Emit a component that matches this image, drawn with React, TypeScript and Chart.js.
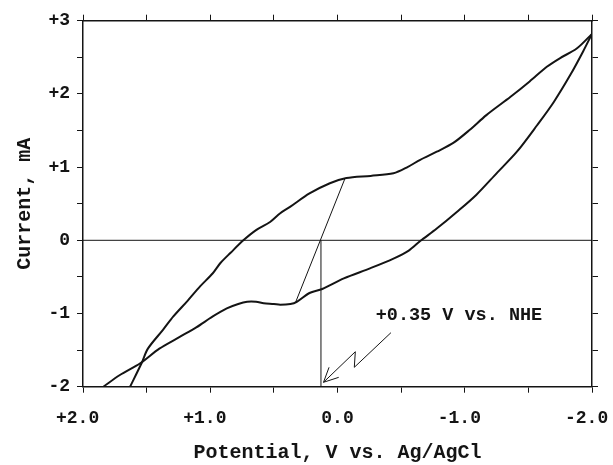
import React, { useEffect, useRef } from "react";
import { Chart, registerables } from "chart.js";

Chart.register(...registerables);

// Forward (lower) branch of the voltammogram: potential (V vs. Ag/AgCl) and current (mA)
const lowerPotential = [1.84, 1.71, 1.55, 1.4, 1.24, 1.11, 0.98, 0.87, 0.78, 0.71, 0.64, 0.58, 0.5, 0.45, 0.37, 0.32, 0.22, 0.12, -0.05, -0.26, -0.44, -0.56, -0.65, -0.78, -0.94, -1.09, -1.25, -1.41, -1.57, -1.7, -1.83, -1.93, -2.0];
const lowerCurrent = [-2.0, -1.84, -1.68, -1.48, -1.32, -1.19, -1.04, -0.93, -0.87, -0.84, -0.84, -0.86, -0.87, -0.88, -0.87, -0.84, -0.72, -0.665, -0.52, -0.38, -0.25, -0.14, -0.01, 0.16, 0.39, 0.62, 0.915, 1.21, 1.575, 1.89, 2.26, 2.58, 2.82];

// Reverse (upper) branch
const upperPotential = [-2.0, -1.88, -1.75, -1.645, -1.51, -1.36, -1.17, -1.04, -0.91, -0.78, -0.65, -0.55, -0.44, -0.26, -0.07, 0.06, 0.22, 0.37, 0.45, 0.53, 0.64, 0.74, 0.84, 0.92, 0.98, 1.08, 1.18, 1.29, 1.37, 1.49, 1.54, 1.63];
const upperCurrent = [2.82, 2.62, 2.49, 2.37, 2.17, 1.96, 1.71, 1.51, 1.33, 1.21, 1.1, 1.0, 0.915, 0.88, 0.85, 0.78, 0.64, 0.46, 0.37, 0.25, 0.14, 0.0, -0.17, -0.31, -0.45, -0.63, -0.83, -1.04, -1.22, -1.48, -1.68, -2.0];

// Construction lines
const zeroLinePotential = [2.0, -2.0];
const zeroLineCurrent = [0, 0];
const slopePotential = [0.33, -0.06];
const slopeCurrent = [-0.85, 0.85];
const nhePotential = [0.13, 0.13];
const nheCurrent = [-2.0, 0.0];

// Annotation
const annotationText = "+0.35 V vs. NHE";
const annotationPos = [-0.3, -1.03];
const arrowPotential = [-0.42, -0.132, -0.14, 0.11];
const arrowCurrent = [-1.262, -1.735, -1.522, -1.94];

// Axes
const xTickValues = [2, 1, 0, -1, -2];
const xTickLabels = ["+2.0", "+1.0", "0.0", "-1.0", "-2.0"];
const yTickValues = [3, 2, 1, 0, -1, -2];
const yTickLabels = ["+3", "+2", "+1", "0", "-1", "-2"];
const xTitle = "Potential, V vs. Ag/AgCl";
const yTitle = "Current, mA";

const toPts = (xs: number[], ys: number[]) => xs.map((x, i) => ({ x, y: ys[i] }));

const INK = "#141414";
const FONT = "'Liberation Mono', 'DejaVu Sans Mono', monospace";

const labelFor = (vals: number[], labels: string[], padSigned: boolean) => (v: number | string) => {
  const n = Number(v);
  const i = vals.findIndex((t) => Math.abs(t - n) < 1e-6);
  if (i < 0) return "";
  const s = labels[i];
  // centre the number itself on the tick, letting the sign hang to the left
  return padSigned && /^[+-]/.test(s) ? s + " " : s;
};

const annotationPlugin = {
  id: "nheAnnotation",
  afterDatasetsDraw(chart: any) {
    const { ctx, scales } = chart;
    const xs = scales.x;
    const ys = scales.y;
    const px = arrowPotential.map((v) => xs.getPixelForValue(v));
    const py = arrowCurrent.map((v) => ys.getPixelForValue(v));
    ctx.save();
    ctx.strokeStyle = INK;
    ctx.lineWidth = 1;
    ctx.beginPath();
    ctx.moveTo(px[0], py[0]);
    for (let i = 1; i < px.length; i++) ctx.lineTo(px[i], py[i]);
    ctx.stroke();
    // open arrowhead
    const n = px.length - 1;
    const ang = Math.atan2(py[n] - py[n - 1], px[n] - px[n - 1]);
    const len = 16;
    const spread = 0.45;
    ctx.beginPath();
    ctx.moveTo(px[n] - len * Math.cos(ang - spread), py[n] - len * Math.sin(ang - spread));
    ctx.lineTo(px[n], py[n]);
    ctx.lineTo(px[n] - len * Math.cos(ang + spread), py[n] - len * Math.sin(ang + spread));
    ctx.stroke();
    // text
    ctx.fillStyle = INK;
    ctx.font = `bold 18.5px ${FONT}`;
    ctx.textAlign = "left";
    ctx.textBaseline = "middle";
    ctx.fillText(annotationText, xs.getPixelForValue(annotationPos[0]), ys.getPixelForValue(annotationPos[1]));
    ctx.restore();
  },
};

export default function App() {
  const ref = useRef<HTMLCanvasElement | null>(null);

  useEffect(() => {
    document.body.style.margin = "0";
    if (!ref.current) return;
    const grid = {
      drawOnChartArea: false,
      drawTicks: true,
      tickLength: 6,
      color: INK,
      lineWidth: 1,
    };
    const border = { display: true, color: INK, width: 1.5 };
    const noPad = (s: any) => {
      s.paddingLeft = 0;
      s.paddingRight = 0;
      s.paddingTop = 0;
      s.paddingBottom = 0;
    };
    const chart = new Chart(ref.current, {
      type: "scatter",
      data: {
        datasets: [
          { data: toPts(lowerPotential, lowerCurrent), borderWidth: 2, tension: 0.3 },
          { data: toPts(upperPotential, upperCurrent), borderWidth: 2, tension: 0.3 },
          { data: toPts(zeroLinePotential, zeroLineCurrent), borderWidth: 1, tension: 0 },
          { data: toPts(slopePotential, slopeCurrent), borderWidth: 1, tension: 0 },
          { data: toPts(nhePotential, nheCurrent), borderWidth: 1, tension: 0 },
        ].map((d) => ({
          ...d,
          showLine: true,
          borderColor: INK,
          backgroundColor: INK,
          pointRadius: 0,
          fill: false,
        })),
      },
      options: {
        animation: false,
        responsive: true,
        maintainAspectRatio: false,
        layout: { padding: 0 },
        plugins: { legend: { display: false }, tooltip: { enabled: false } },
        scales: {
          x: {
            type: "linear",
            position: "bottom",
            min: -2,
            max: 2,
            reverse: true,
            grid,
            border,
            ticks: {
              stepSize: 0.5,
              autoSkip: false,
              maxRotation: 0,
              padding: 15,
              color: INK,
              font: { family: FONT, size: 18, weight: "bold" },
              callback: labelFor(xTickValues, xTickLabels, true),
            },
            title: {
              display: true,
              text: xTitle,
              color: INK,
              font: { family: FONT, size: 20, weight: "bold" },
              padding: { top: 0, bottom: 0 },
            },
            afterFit: (s: any) => {
              s.height = 78.3;
              noPad(s);
            },
          },
          x2: {
            type: "linear",
            position: "top",
            min: -2,
            max: 2,
            reverse: true,
            grid,
            border,
            ticks: { stepSize: 0.5, autoSkip: false, callback: () => "" },
            afterFit: (s: any) => {
              s.height = 20.7;
              noPad(s);
            },
          },
          y: {
            type: "linear",
            position: "left",
            min: -2,
            max: 3,
            grid,
            border,
            ticks: {
              stepSize: 0.5,
              autoSkip: false,
              padding: 7,
              color: INK,
              font: { family: FONT, size: 18, weight: "bold" },
              callback: labelFor(yTickValues, yTickLabels, false),
            },
            title: {
              display: true,
              text: yTitle,
              color: INK,
              font: { family: FONT, size: 20, weight: "bold" },
              padding: { top: 13, bottom: 0 },
            },
            afterFit: (s: any) => {
              s.width = 83;
              noPad(s);
            },
          },
          y2: {
            type: "linear",
            position: "right",
            min: -2,
            max: 3,
            grid,
            border,
            ticks: { stepSize: 0.5, autoSkip: false, callback: () => "" },
            afterFit: (s: any) => {
              s.width = 21;
              noPad(s);
            },
          },
        },
      } as any,
      plugins: [annotationPlugin],
    });
    return () => chart.destroy();
  }, []);

  return (
    <div style={{ width: 613, height: 465, position: "relative", background: "#fff" }}>
      <canvas ref={ref} />
    </div>
  );
}
